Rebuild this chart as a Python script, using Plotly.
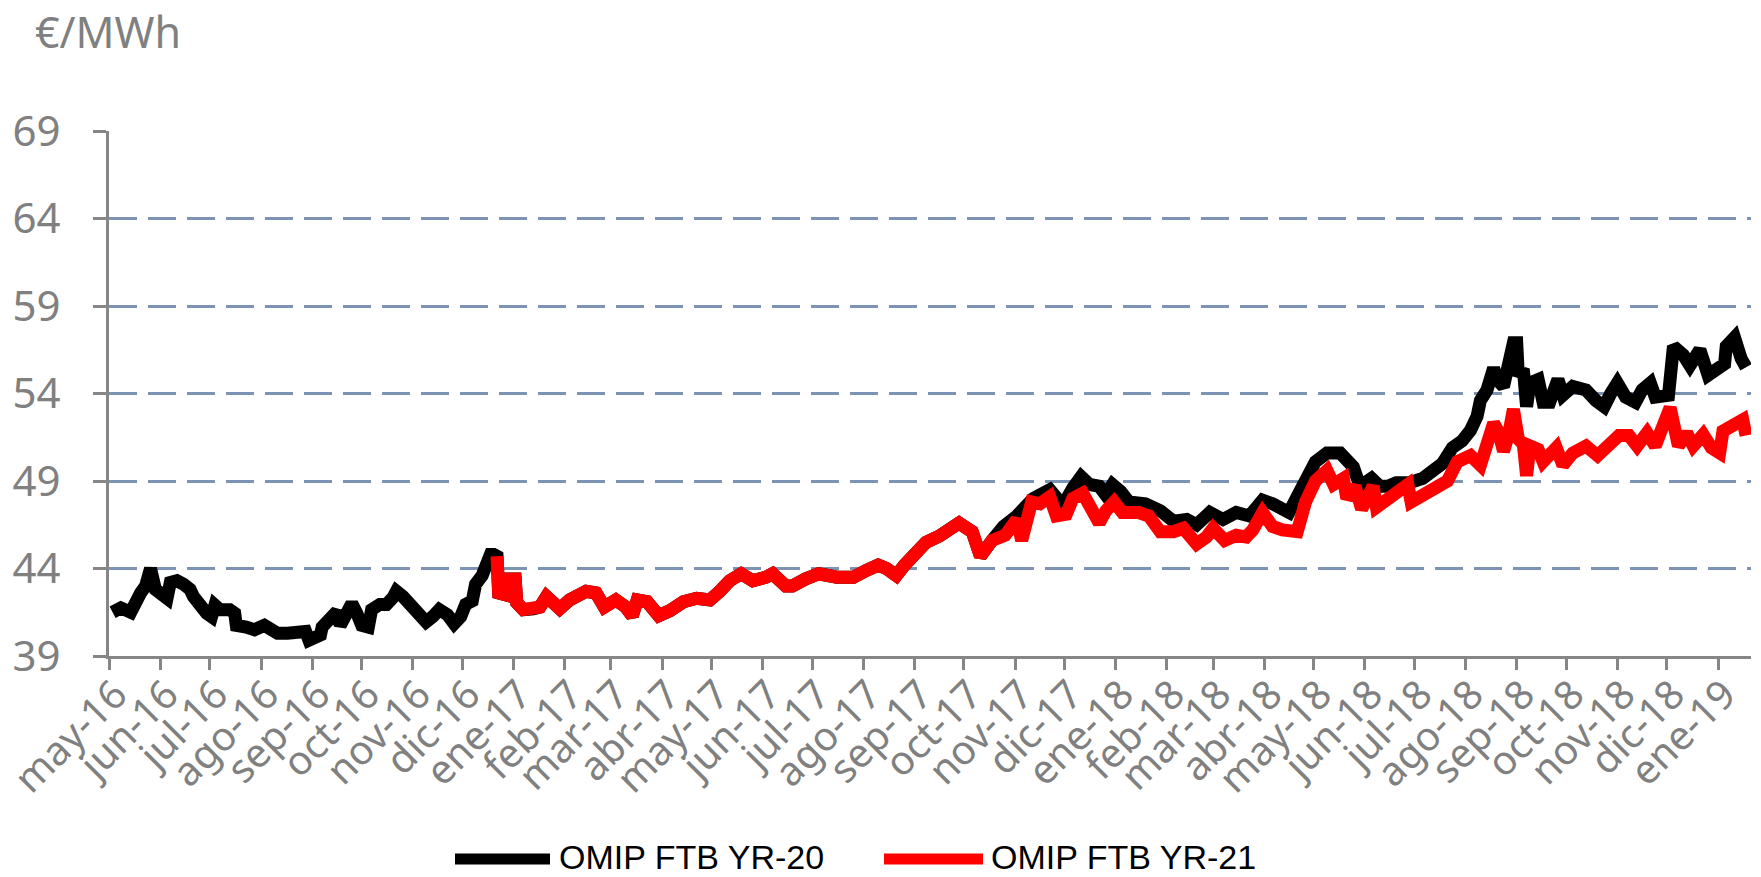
import pandas as pd
import plotly.graph_objects as go

# ---------------- data ----------------
month_labels = ["may-16", "jun-16", "jul-16", "ago-16", "sep-16", "oct-16", "nov-16", "dic-16",
                "ene-17", "feb-17", "mar-17", "abr-17", "may-17", "jun-17", "jul-17", "ago-17",
                "sep-17", "oct-17", "nov-17", "dic-17", "ene-18", "feb-18", "mar-18", "abr-18",
                "may-18", "jun-18", "jul-18", "ago-18", "sep-18", "oct-18", "nov-18", "dic-18",
                "ene-19"]

# OMIP FTB YR-20, May-Dec 2016 (before YR-21 starts)
yr20_early_dates = ["2016-05-03", "2016-05-08", "2016-05-14", "2016-05-16", "2016-05-20", "2016-05-23",
                    "2016-05-26", "2016-05-29", "2016-06-01", "2016-06-05", "2016-06-07", "2016-06-11",
                    "2016-06-15", "2016-06-19", "2016-06-21", "2016-06-25", "2016-06-29", "2016-07-02",
                    "2016-07-04", "2016-07-07", "2016-07-13", "2016-07-16", "2016-07-17", "2016-07-23",
                    "2016-07-28", "2016-08-03", "2016-08-07", "2016-08-11", "2016-08-17", "2016-08-25",
                    "2016-08-28", "2016-08-30", "2016-09-02", "2016-09-06", "2016-09-07", "2016-09-12",
                    "2016-09-16", "2016-09-18", "2016-09-22", "2016-09-25", "2016-09-28", "2016-10-01",
                    "2016-10-05", "2016-10-07", "2016-10-12", "2016-10-16", "2016-10-20", "2016-10-22",
                    "2016-10-26", "2016-11-01", "2016-11-05", "2016-11-09", "2016-11-13", "2016-11-17",
                    "2016-11-22", "2016-11-26", "2016-11-30", "2016-12-03", "2016-12-07", "2016-12-09",
                    "2016-12-13", "2016-12-15", "2016-12-18", "2016-12-20"]
yr20_early_vals = [41.5, 41.75, 41.5, 42.0, 42.6, 43.0,
                   44.0, 42.8, 42.5, 42.3, 43.2, 43.3,
                   43.1, 42.8, 42.4, 41.85, 41.45, 41.25,
                   41.9, 41.65, 41.65, 41.45, 40.75, 40.65,
                   40.5, 40.75, 40.5, 40.3, 40.3, 40.5,
                   40.4, 39.9, 40.1, 40.2, 40.65, 41.15,
                   41.55, 40.75, 41.75, 42.0, 41.45, 40.75,
                   40.65, 41.65, 41.95, 41.95, 42.35, 42.7,
                   42.4, 41.85, 41.35, 40.95, 41.25, 41.65,
                   41.35, 40.85, 41.25, 41.95, 42.15, 43.1,
                   43.6, 44.4, 44.8, 44.8]

# OMIP FTB YR-20, from late Oct 2017 (where it separates from YR-21)
yr20_late_dates = ["2017-10-25", "2017-11-02", "2017-11-12", "2017-11-22", "2017-11-30", "2017-12-06",
                   "2017-12-11", "2017-12-16", "2017-12-22", "2017-12-26", "2017-12-30", "2018-01-04",
                   "2018-01-09", "2018-01-19", "2018-01-28", "2018-02-05", "2018-02-13", "2018-02-19",
                   "2018-02-27", "2018-03-07", "2018-03-15", "2018-03-23", "2018-03-31", "2018-04-06",
                   "2018-04-16", "2018-04-22", "2018-04-26", "2018-05-02", "2018-05-09", "2018-05-17",
                   "2018-05-21", "2018-05-25", "2018-05-29", "2018-06-05", "2018-06-10", "2018-06-15",
                   "2018-06-20", "2018-06-28", "2018-07-06", "2018-07-12", "2018-07-18", "2018-07-24",
                   "2018-07-30", "2018-08-04", "2018-08-08", "2018-08-10", "2018-08-14", "2018-08-18",
                   "2018-08-20", "2018-08-24", "2018-08-27", "2018-08-30", "2018-09-01", "2018-09-02",
                   "2018-09-05", "2018-09-07", "2018-09-09", "2018-09-14", "2018-09-17", "2018-09-21",
                   "2018-09-26", "2018-09-29", "2018-10-05", "2018-10-13", "2018-10-19", "2018-10-24",
                   "2018-10-28", "2018-11-01", "2018-11-06", "2018-11-12", "2018-11-16", "2018-11-21",
                   "2018-11-24", "2018-12-02", "2018-12-05", "2018-12-11", "2018-12-15", "2018-12-21",
                   "2018-12-26", "2018-12-31", "2019-01-05", "2019-01-06", "2019-01-11", "2019-01-15",
                   "2019-01-18"]
yr20_late_vals = [46.4, 47.0, 48.0, 48.5, 47.6, 48.6,
                  49.25, 48.8, 48.7, 48.2, 48.8, 48.4,
                  47.8, 47.7, 47.3, 46.7, 46.8, 46.5,
                  47.2, 46.8, 47.2, 47.0, 47.9, 47.7,
                  47.2, 48.3, 49.05, 50.1, 50.6, 50.6,
                  50.2, 49.8, 48.7, 49.15, 48.7, 48.7,
                  48.9, 48.9, 49.15, 49.6, 50.0, 50.9,
                  51.3, 51.9, 52.7, 53.6, 54.2, 55.45,
                  54.8, 54.4, 55.7, 56.9, 56.9, 55.0,
                  55.4, 53.25, 54.6, 54.8, 53.5, 53.5,
                  54.8, 53.9, 54.4, 54.2, 53.6, 53.25,
                  54.0, 54.6, 53.8, 53.5, 54.2, 54.6,
                  53.8, 53.9, 56.7, 56.2, 55.6, 56.5,
                  55.05, 55.35, 55.7, 56.7, 57.2, 56.0,
                  55.5]

# OMIP FTB YR-21
yr21_dates = ["2016-12-22", "2016-12-23", "2016-12-27", "2016-12-29", "2017-01-02", "2017-01-03",
              "2017-01-07", "2017-01-13", "2017-01-17", "2017-01-21", "2017-01-29", "2017-02-04",
              "2017-02-14", "2017-02-20", "2017-02-25", "2017-03-04", "2017-03-10", "2017-03-14",
              "2017-03-17", "2017-03-23", "2017-03-30", "2017-04-06", "2017-04-14", "2017-04-22",
              "2017-04-30", "2017-05-06", "2017-05-12", "2017-05-19", "2017-05-26", "2017-06-03",
              "2017-06-07", "2017-06-15", "2017-06-19", "2017-06-27", "2017-07-05", "2017-07-16",
              "2017-07-26", "2017-08-03", "2017-08-10", "2017-08-15", "2017-08-21", "2017-08-26",
              "2017-09-01", "2017-09-08", "2017-09-16", "2017-09-22", "2017-09-28", "2017-10-06",
              "2017-10-11", "2017-10-18", "2017-10-26", "2017-11-02", "2017-11-05", "2017-11-11",
              "2017-11-16", "2017-11-22", "2017-11-26", "2017-12-02", "2017-12-06", "2017-12-12",
              "2017-12-17", "2017-12-22", "2017-12-26", "2017-12-31", "2018-01-05", "2018-01-15",
              "2018-01-21", "2018-01-28", "2018-02-05", "2018-02-11", "2018-02-19", "2018-02-25",
              "2018-03-01", "2018-03-08", "2018-03-15", "2018-03-21", "2018-03-25", "2018-03-31",
              "2018-04-06", "2018-04-12", "2018-04-21", "2018-04-26", "2018-05-02", "2018-05-09",
              "2018-05-13", "2018-05-19", "2018-05-21", "2018-05-26", "2018-05-30", "2018-06-06",
              "2018-06-08", "2018-06-15", "2018-06-20", "2018-06-27", "2018-06-29", "2018-07-09",
              "2018-07-15", "2018-07-21", "2018-07-27", "2018-08-04", "2018-08-10", "2018-08-14",
              "2018-08-18", "2018-08-21", "2018-08-24", "2018-08-27", "2018-08-30", "2018-09-02",
              "2018-09-05", "2018-09-07", "2018-09-09", "2018-09-14", "2018-09-17", "2018-09-25",
              "2018-09-29", "2018-10-05", "2018-10-13", "2018-10-20", "2018-10-27", "2018-11-02",
              "2018-11-08", "2018-11-13", "2018-11-19", "2018-11-24", "2018-11-27", "2018-12-03",
              "2018-12-08", "2018-12-13", "2018-12-17", "2018-12-23", "2018-12-28", "2019-01-02",
              "2019-01-04", "2019-01-10", "2019-01-16", "2019-01-18"]
yr21_vals = [44.7, 42.6, 42.5, 43.4, 43.4, 42.05,
             41.65, 41.7, 41.8, 42.4, 41.7, 42.2,
             42.7, 42.6, 41.8, 42.2, 41.8, 41.3,
             42.2, 42.1, 41.3, 41.6, 42.1, 42.3,
             42.2, 42.7, 43.3, 43.7, 43.3, 43.5,
             43.7, 43.0, 43.0, 43.4, 43.7, 43.5,
             43.5, 43.9, 44.2, 44.0, 43.6, 44.2,
             44.8, 45.5, 45.85, 46.2, 46.6, 46.1,
             44.7, 45.6, 45.9, 46.8, 45.6, 47.8,
             47.7, 48.1, 47.0, 47.1, 48.0, 48.3,
             47.6, 46.6, 47.3, 47.8, 47.2, 47.2,
             47.0, 46.1, 46.1, 46.3, 45.4, 45.8,
             46.3, 45.6, 45.9, 45.8, 46.2, 47.2,
             46.4, 46.2, 46.1, 47.8, 49.0, 49.6,
             48.8, 49.15, 48.0, 48.7, 47.4, 48.7,
             47.5, 48.0, 48.4, 48.8, 47.8, 48.4,
             48.7, 49.0, 50.1, 50.45, 49.9, 51.0,
             52.3, 51.8, 50.7, 51.6, 53.1, 51.4,
             51.1, 49.3, 51.0, 50.8, 50.1, 50.9,
             49.9, 50.6, 51.0, 50.45, 51.0, 51.6,
             51.6, 51.0, 51.75, 51.0, 51.75, 53.2,
             51.0, 51.75, 51.0, 51.65, 50.9, 50.6,
             51.85, 52.25, 52.5, 51.6]

series_names = ["OMIP FTB YR-20", "OMIP FTB YR-21"]

# YR-20 runs underneath YR-21 (identical prices) until late Oct 2017
yr21 = pd.Series(yr21_vals, index=pd.to_datetime(yr21_dates))
yr20_mid = yr21[yr21.index < pd.Timestamp(yr20_late_dates[0])]
yr20 = pd.concat([
    pd.Series(yr20_early_vals, index=pd.to_datetime(yr20_early_dates)),
    yr20_mid,
    pd.Series(yr20_late_vals, index=pd.to_datetime(yr20_late_dates)),
])

# ---------------- style / layout ----------------
OFF = 8                      # default page-body margin of the html page
W, H = 1761 - OFF, 877 - OFF  # figure size so it fills the window exactly
ML, MR, MT, MB = 109 - OFF, 10, 131 - OFF, 221
PW, PH = W - ML - MR, H - MT - MB
GRAY = "#868686"
TXT = "#808080"
GRID = "#7c93b3"
FONT = "Noto Sans, Open Sans, DejaVu Sans, sans-serif"
LEG_FONT = "Liberation Sans Narrow, Arial Narrow, Liberation Sans, sans-serif"
colors = ["#000000", "#ff0000"]


def px_x(p):
    """screen pixel -> paper x"""
    return (p - OFF - ML) / PW


def px_y(p):
    """screen pixel -> paper y"""
    return (H - MB - (p - OFF)) / PH


fig = go.Figure()
for s, name, c in [(yr20, series_names[0], colors[0]), (yr21, series_names[1], colors[1])]:
    fig.add_trace(go.Scatter(x=s.index, y=s.values, mode="lines", name=name,
                             line=dict(color=c, width=13), showlegend=False,
                             hoverinfo="x+y+name"))

tickvals = pd.date_range("2016-05-01", periods=len(month_labels), freq="MS")

fig.update_layout(
    width=W, height=H,
    margin=dict(l=ML, r=MR, t=MT, b=MB, pad=0, autoexpand=False),
    paper_bgcolor="white", plot_bgcolor="white",
    font=dict(family=FONT, color=TXT),
    xaxis=dict(
        type="date", range=["2016-04-30 20:00", "2019-01-21"],
        tickvals=tickvals, ticktext=month_labels, tickangle=-45,
        tickfont=dict(size=40, color=TXT, family=FONT),
        ticklabeloverflow="allow", ticklabelstandoff=-15, ticklabelshift=6,
        showgrid=False, zeroline=False,
        showline=True, linecolor=GRAY, linewidth=3,
        ticks="outside", ticklen=11, tickwidth=3, tickcolor=GRAY,
    ),
    yaxis=dict(
        range=[39, 69], tick0=39, dtick=5,
        tickfont=dict(size=42, color=TXT, family=FONT),
        showgrid=True, gridcolor=GRID, gridwidth=3, griddash="28px,11px",
        zeroline=False,
        showline=True, linecolor=GRAY, linewidth=3,
        ticks="outside", ticklen=13, tickwidth=3, tickcolor=GRAY,
        ticklabelstandoff=24,
    ),
)

# unit label at the top-left
fig.add_annotation(xref="paper", yref="paper", x=px_x(33), y=px_y(31),
                   xanchor="left", yanchor="middle", showarrow=False,
                   text="€/MWh", font=dict(size=43, color=TXT, family=FONT))

# legend drawn at the bottom (long thick line samples as in the original)
leg_y = px_y(859)
legend_items = [(455, 550, 557), (884, 983, 989)]
for (x0, x1, xt), name, c in zip(legend_items, series_names, colors):
    fig.add_shape(type="line", xref="paper", yref="paper",
                  x0=px_x(x0), x1=px_x(x1), y0=leg_y, y1=leg_y,
                  line=dict(color=c, width=11))
    fig.add_annotation(xref="paper", yref="paper", x=px_x(xt), y=px_y(857),
                       xanchor="left", yanchor="middle", showarrow=False,
                       text=name, font=dict(size=34, color="#000000", family=LEG_FONT))

fig.write_html("out.html")
